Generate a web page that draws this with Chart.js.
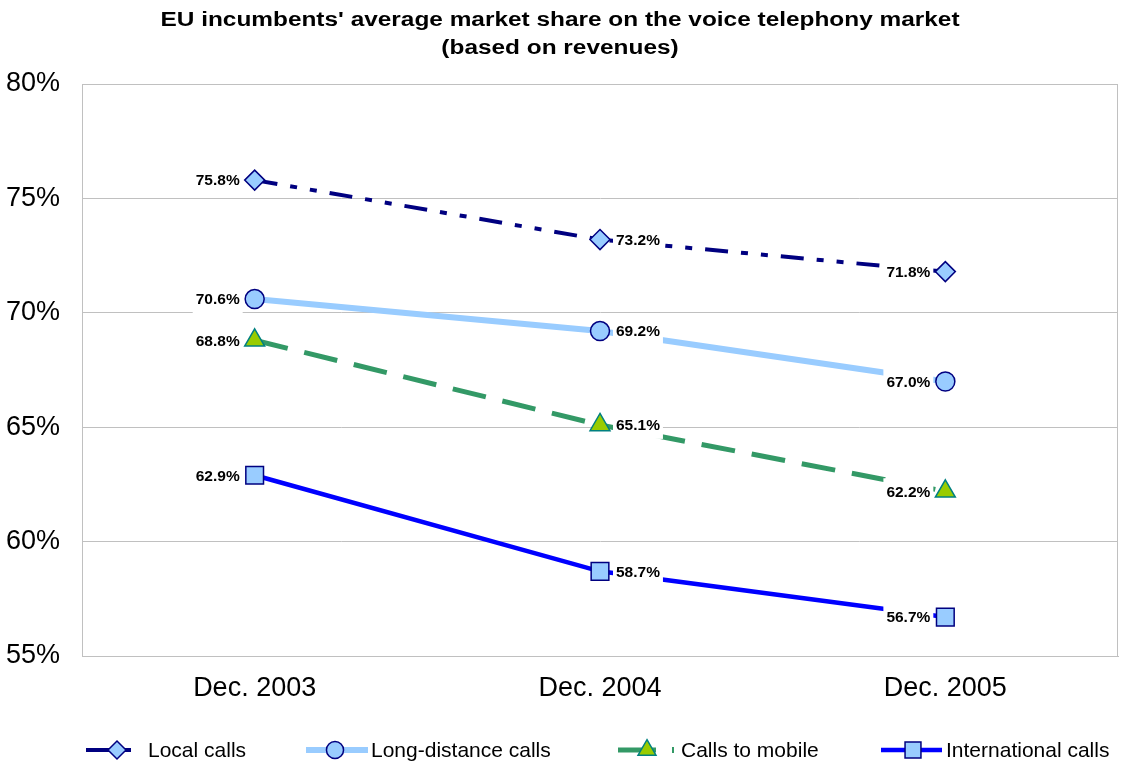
<!DOCTYPE html>
<html>
<head>
<meta charset="utf-8">
<script src="https://cdn.jsdelivr.net/npm/chart.js@4.4.0/dist/chart.umd.min.js"></script>
<style>
html,body{margin:0;padding:0;background:#fff;}
#wrap{width:1122px;height:765px;position:relative;}
</style>
</head>
<body>
<div id="wrap"><canvas id="c" width="1122" height="765"></canvas></div>
<script>
// ---- data ----
const categories = ['Dec. 2003', 'Dec. 2004', 'Dec. 2005'];
const seriesNames = ['Local calls', 'Long-distance calls', 'Calls to mobile', 'International calls'];
const localCalls = [75.8, 73.2, 71.8];
const longDistanceCalls = [70.6, 69.2, 67.0];
const callsToMobile = [68.8, 65.1, 62.2];
const internationalCalls = [62.9, 58.7, 56.7];
const yTicks = [55, 60, 65, 70, 75, 80];
const titleLines = ["EU incumbents' average market share on the voice telephony market", '(based on revenues)'];

const FONT = 'Arial, "Liberation Sans", sans-serif';
const labelSide = ['left', 'right', 'left'];

const datasets = [
  {label: seriesNames[0], data: localCalls, borderColor: '#000080', borderWidth: 4, borderDash: [23,13,7,13,7,13],
   pointStyle: 'rectRot', pointRadius: 10, pointBackgroundColor: '#99CCFF', pointBorderColor: '#000080', pointBorderWidth: 1.5},
  {label: seriesNames[1], data: longDistanceCalls, borderColor: '#99CCFF', borderWidth: 6, borderDash: [],
   pointStyle: 'circle', pointRadius: 9.5, pointBackgroundColor: '#99CCFF', pointBorderColor: '#000080', pointBorderWidth: 1.5},
  {label: seriesNames[2], data: callsToMobile, borderColor: '#339966', borderWidth: 5, borderDash: [34,17],
   pointStyle: 'triangle', pointRadius: 11.5, pointBackgroundColor: '#99CC00', pointBorderColor: '#008080', pointBorderWidth: 1.5},
  {label: seriesNames[3], data: internationalCalls, borderColor: '#0000FF', borderWidth: 4.5, borderDash: [],
   pointStyle: 'rect', pointRadius: 12.5, pointBackgroundColor: '#99CCFF', pointBorderColor: '#000080', pointBorderWidth: 1.5}
];
datasets.forEach(d => { d.fill = false; d.tension = 0; d.pointHoverRadius = d.pointRadius; d.clip = false; });

const fmt = v => v.toFixed(1) + '%';

const framePlugin = {
  id: 'frame',
  beforeDatasetsDraw(chart) {
    const {ctx, chartArea: a} = chart;
    ctx.save();
    ctx.strokeStyle = '#C0C0C0';
    ctx.lineWidth = 1;
    ctx.strokeRect(Math.round(a.left) + 0.5, Math.round(a.top) + 0.5, Math.round(a.right - a.left) - 1, Math.round(a.bottom - a.top));
    ctx.restore();
  }
};

const labelPlugin = {
  id: 'dlabels',
  afterDatasetsDraw(chart) {
    const ctx = chart.ctx;
    ctx.save();
    ctx.font = 'bold 15.5px ' + FONT;
    ctx.textBaseline = 'middle';
    chart.data.datasets.forEach((ds, di) => {
      const meta = chart.getDatasetMeta(di);
      meta.data.forEach((pt, i) => {
        const txt = fmt(ds.data[i]);
        const w = ctx.measureText(txt).width;
        const side = labelSide[i];
        const tx = side === 'left' ? pt.x - 15 - w : pt.x + 16;
        ctx.fillStyle = '#fff';
        ctx.fillRect(tx - 3, pt.y - 13, w + 6, 27);
        ctx.fillStyle = '#000';
        ctx.textAlign = 'left';
        ctx.fillText(txt, tx, pt.y + 1);
      });
    });
    ctx.restore();
  }
};

const titlePlugin = {
  id: 'ttl',
  afterDraw(chart) {
    const ctx = chart.ctx;
    ctx.save();
    ctx.font = 'bold 20px ' + FONT;
    ctx.fillStyle = '#000';
    ctx.textAlign = 'center';
    ctx.textBaseline = 'middle';
    ctx.translate(560, 0);
    ctx.scale(1.22, 1);
    ctx.fillText(titleLines[0], 0, 20);
    ctx.fillText(titleLines[1], 0, 48);
    ctx.restore();
  }
};

const legendPlugin = {
  id: 'customLegend',
  afterDraw(chart) {
    const ctx = chart.ctx;
    const y = 750;
    const items = [
      {x0: 86, x1: 131, m: 117, t: 148},
      {x0: 306, x1: 368, m: 335, t: 371},
      {x0: 618, x1: 656, m: 647, t: 681, tick: 673},
      {x0: 881, x1: 942, m: 913, t: 946}
    ];
    const draw = Chart.helpers && Chart.helpers.drawPoint;
    chart.data.datasets.forEach((ds, i) => {
      const it = items[i];
      ctx.save();
      ctx.strokeStyle = ds.borderColor;
      ctx.lineWidth = ds.borderWidth;
      ctx.beginPath();
      ctx.moveTo(it.x0, y);
      ctx.lineTo(it.x1, y);
      ctx.stroke();
      if (it.tick) {
        ctx.beginPath();
        ctx.lineWidth = 2;
        ctx.moveTo(it.tick, y - 3);
        ctx.lineTo(it.tick, y + 3);
        ctx.stroke();
      }
      ctx.fillStyle = ds.pointBackgroundColor;
      ctx.strokeStyle = ds.pointBorderColor;
      ctx.lineWidth = ds.pointBorderWidth;
      if (draw) draw(ctx, {pointStyle: ds.pointStyle, radius: ds.pointRadius * 0.9, rotation: 0, borderWidth: ds.pointBorderWidth}, it.m, y);
      ctx.fillStyle = '#000';
      ctx.font = '21px ' + FONT;
      ctx.textBaseline = 'middle';
      ctx.textAlign = 'left';
      ctx.fillText(ds.label, it.t, y + 1);
      ctx.restore();
    });
  }
};

new Chart(document.getElementById('c'), {
  type: 'line',
  data: {labels: categories, datasets: datasets},
  options: {
    responsive: false,
    animation: false,
    devicePixelRatio: 1,
    layout: {autoPadding: false, padding: {top: 84, right: 4, left: 0, bottom: 0}},
    plugins: {legend: {display: false}, title: {display: false}, tooltip: {enabled: false}},
    scales: {
      x: {
        offset: true,
        grid: {display: false, drawTicks: false},
        border: {display: true, color: '#C0C0C0', width: 1},
        ticks: {color: '#000', font: {family: FONT, size: 27}, padding: 16, maxRotation: 0},
        afterFit(s) { s.height = 109; s.paddingLeft = 0; s.paddingRight = 0; }
      },
      y: {
        min: yTicks[0], max: yTicks[yTicks.length - 1],
        afterBuildTicks(s) { s.ticks = yTicks.map(v => ({value: v})); },
        grid: {color: '#C0C0C0', lineWidth: 1, drawTicks: false},
        border: {display: true, color: '#C0C0C0', width: 1},
        ticks: {color: '#000', font: {family: FONT, size: 27}, padding: 22, callback: v => v + '%'},
        afterFit(s) { s.width = 82; s.paddingTop = 0; s.paddingBottom = 0; }
      }
    }
  },
  plugins: [framePlugin, labelPlugin, titlePlugin, legendPlugin]
});
</script>
</body>
</html>
